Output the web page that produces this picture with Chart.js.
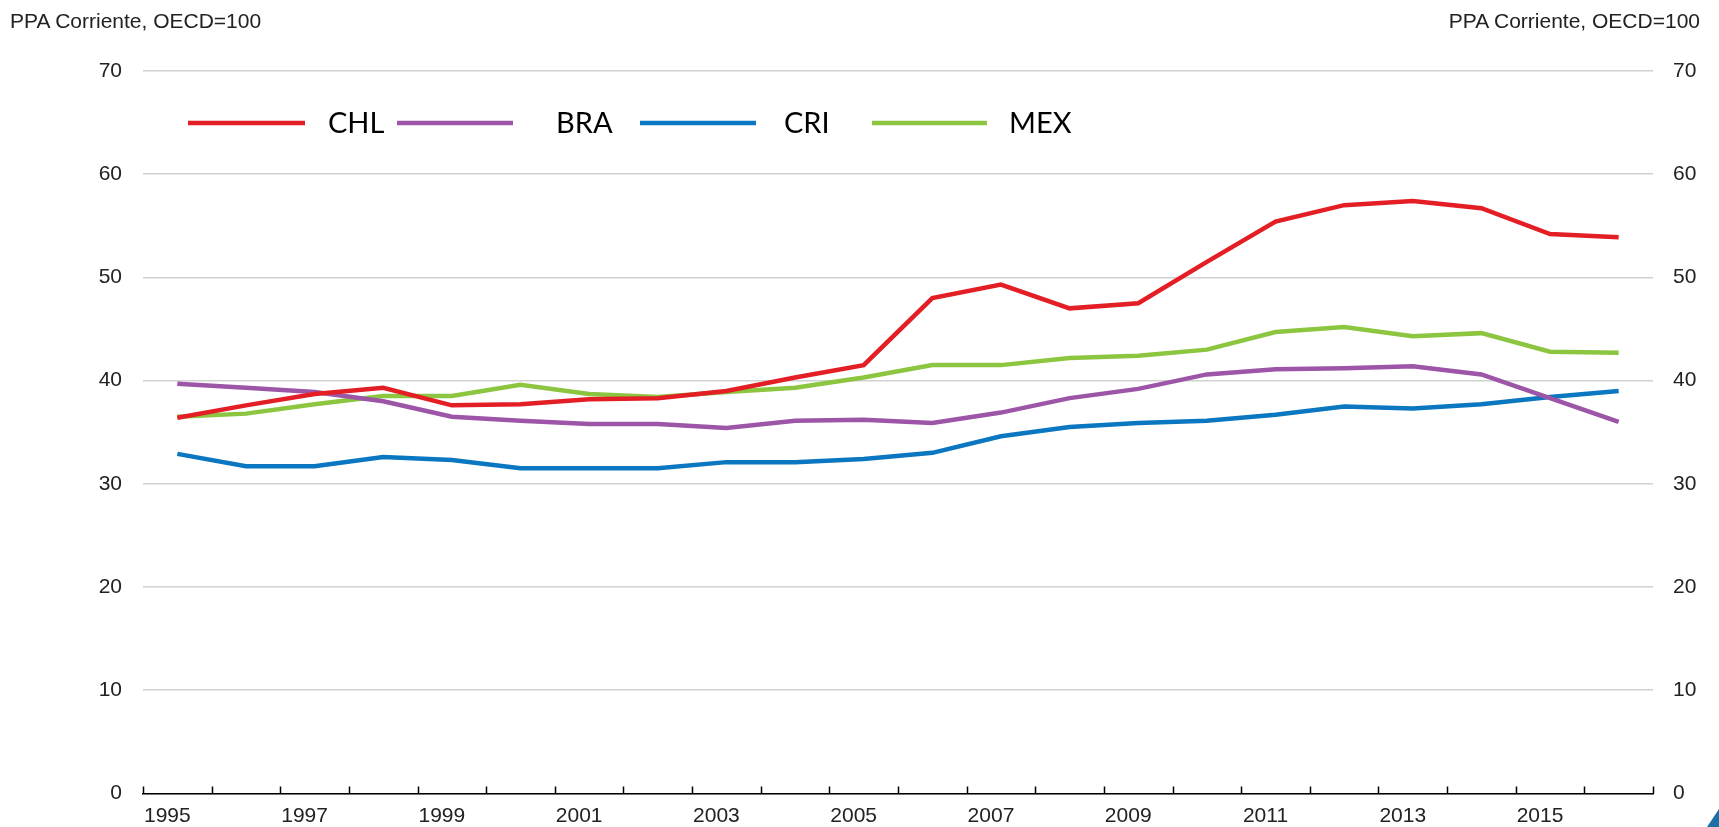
<!DOCTYPE html>
<html>
<head>
<meta charset="utf-8">
<script src="https://cdn.jsdelivr.net/npm/chart.js@4.4.1/dist/chart.umd.min.js"></script>
<style>
  body { margin: 0; background: #fff; }
  #wrap { position: relative; width: 1719px; height: 827px; }
  .unit { position: absolute; top: 10px; font: 21px/21px "Liberation Sans", Arial, sans-serif; color: #222; }
  #corner { position: absolute; right: 0; bottom: 0; width: 0; height: 0;
            border-left: 12px solid transparent; border-bottom: 18px solid #1d6fa8; }
</style>
</head>
<body>
<div id="wrap">
  <canvas id="lineChart" width="1719" height="827"></canvas>
  <div class="unit" style="left:10px">PPA Corriente, OECD=100</div>
  <div class="unit" style="right:19px">PPA Corriente, OECD=100</div>
  <div id="corner"></div>
</div>
<script>
// data
const years = ['1995', '1996', '1997', '1998', '1999', '2000', '2001', '2002', '2003', '2004', '2005',
               '2006', '2007', '2008', '2009', '2010', '2011', '2012', '2013', '2014', '2015', '2016'];
const chl = [36.4, 37.6, 38.7, 39.3, 37.6, 37.7, 38.2, 38.3, 39.0, 40.3, 41.5,
             48.0, 49.3, 47.0, 47.5, 51.5, 55.4, 57.0, 57.4, 56.7, 54.2, 53.9];
const bra = [39.7, 39.3, 38.9, 38.0, 36.5, 36.1, 35.8, 35.8, 35.4, 36.1, 36.2,
             35.9, 36.9, 38.3, 39.2, 40.6, 41.1, 41.2, 41.4, 40.6, 38.3, 36.0];
const cri = [32.9, 31.7, 31.7, 32.6, 32.3, 31.5, 31.5, 31.5, 32.1, 32.1, 32.4,
             33.0, 34.6, 35.5, 35.9, 36.1, 36.7, 37.5, 37.3, 37.7, 38.4, 39.0];
const mex = [36.5, 36.8, 37.7, 38.5, 38.5, 39.6, 38.7, 38.4, 38.9, 39.3, 40.3,
             41.5, 41.5, 42.2, 42.4, 43.0, 44.7, 45.2, 44.3, 44.6, 42.8, 42.7];
const yMin = 0, yMax = 70, yStep = 10;

const tickFont = { family: '"Liberation Sans", Arial', size: 21 };

// legend sits inside the plot, Excel-style
const legendPos = [
  { line: [188, 305], text: 328 },
  { line: [397, 513], text: 556 },
  { line: [640, 756], text: 784 },
  { line: [872, 987], text: 1009 }
];
const legendPlugin = {
  id: 'insideLegend',
  afterDraw(chart) {
    const ctx = chart.ctx;
    ctx.save();
    ctx.font = '29px Lato, "Open Sans", sans-serif';
    ctx.textBaseline = 'middle';
    chart.data.datasets.forEach((ds, i) => {
      const p = legendPos[i];
      ctx.strokeStyle = ds.borderColor;
      ctx.lineWidth = 4.5;
      ctx.beginPath();
      ctx.moveTo(p.line[0], 123);
      ctx.lineTo(p.line[1], 123);
      ctx.stroke();
      ctx.fillStyle = '#000';
      ctx.fillText(ds.label, p.text, 124);
    });
    ctx.restore();
  }
};

// small tick marks pointing up from the x axis, between categories
const axisTicks = {
  id: 'axisTicks',
  afterDraw(chart) {
    const x = chart.scales.x;
    const n = years.length;
    const ctx = chart.ctx;
    ctx.save();
    ctx.strokeStyle = '#000';
    ctx.lineWidth = 1.5;
    ctx.beginPath();
    for (let i = 0; i <= n; i++) {
      const px = Math.round(x.left + i * x.width / n) + 0.5;
      ctx.moveTo(px, x.top);
      ctx.lineTo(px, x.top - 7);
    }
    ctx.stroke();
    ctx.restore();
  }
};

const ctx = document.getElementById('lineChart').getContext('2d');
new Chart(ctx, {
  type: 'line',
  data: {
    labels: years,
    datasets: [
      { label: 'CHL', data: chl, borderColor: '#e31e24' },
      { label: 'BRA', data: bra, borderColor: '#9c55a7' },
      { label: 'CRI', data: cri, borderColor: '#0a77c0' },
      { label: 'MEX', data: mex, borderColor: '#8cc640' }
    ]
  },
  options: {
    responsive: false,
    animation: false,
    layout: { padding: { top: 71, left: 0, right: 0, bottom: 0 } },
    elements: {
      line: { borderWidth: 4.5, tension: 0 },
      point: { radius: 0 }
    },
    scales: {
      x: {
        offset: true,
        grid: { display: false, offset: true },
        border: { color: '#000', width: 1.5 },
        ticks: {
          color: '#222',
          font: tickFont,
          autoSkip: false,
          maxRotation: 0,
          padding: 2,
          labelOffset: -10,
          callback: (v, i) => (i % 2 === 0 ? years[i] : '')
        },
        afterFit: s => { s.height = 33; }
      },
      y: {
        min: yMin, max: yMax,
        position: 'left',
        grid: { color: '#d2d2d2', lineWidth: 1.5, drawTicks: false },
        border: { display: false },
        ticks: { stepSize: yStep, color: '#222', font: tickFont, padding: 21 },
        afterFit: s => { s.width = 143; }
      },
      y2: {
        min: yMin, max: yMax,
        position: 'right',
        grid: { display: false, drawTicks: false },
        border: { display: false },
        ticks: { stepSize: yStep, color: '#222', font: tickFont, padding: 20 },
        afterFit: s => { s.width = 66; }
      }
    },
    plugins: {
      legend: { display: false },
      tooltip: { enabled: false }
    }
  },
  plugins: [legendPlugin, axisTicks]
});
</script>
</body>
</html>
